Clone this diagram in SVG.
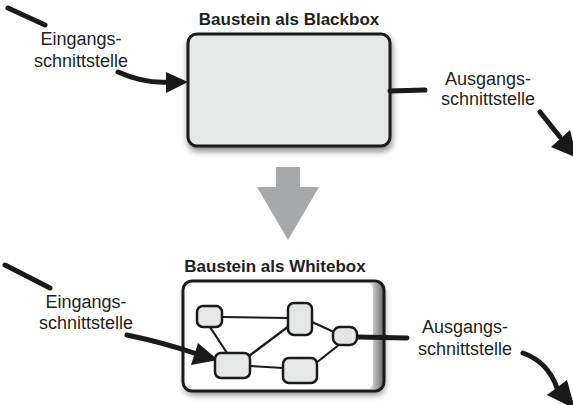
<svg xmlns="http://www.w3.org/2000/svg" width="573" height="405" viewBox="0 0 573 405">
  <style>
    .title { font-family: "Liberation Sans", Arial, sans-serif; font-weight: bold; font-size: 17px; fill: #231f20; text-anchor: middle; }
    .label { font-family: "Liberation Sans", Arial, sans-serif; font-size: 18px; fill: #231f20; text-anchor: middle; }
    .box { fill: #e5e6e6; stroke: #1a1a1a; stroke-width: 3; }
    .node { fill: #e5e6e6; stroke: #1a1a1a; stroke-width: 2.5; }
    .edge { fill: none; stroke: #1a1a1a; stroke-width: 2.2; }
    .wire { fill: none; stroke: #1a1a1a; stroke-width: 5; stroke-linecap: round; }
    .head { fill: #1a1a1a; }
  </style>
  <defs>
    <filter id="shadow" x="-10%" y="-10%" width="125%" height="130%">
      <feDropShadow dx="1" dy="4" stdDeviation="3" flood-color="#000" flood-opacity="0.45"/>
    </filter>
    <linearGradient id="curl" x1="0" y1="0" x2="1" y2="0">
      <stop offset="0" stop-color="#ffffff"/>
      <stop offset="0.5" stop-color="#b0b0b0"/>
      <stop offset="1" stop-color="#707070"/>
    </linearGradient>
  </defs>

  <!-- black box -->
  <g id="blackbox">
    <text class="title" x="289" y="25">Baustein als Blackbox</text>
    <rect class="box" x="188" y="34" width="202" height="112" rx="9" filter="url(#shadow)"/>
  </g>

  <!-- transition arrow -->
  <g id="transition">
    <polygon fill="#a7a8a9" points="276,167 300,167 300,187 319,187 288,240 257,187 276,187"/>
  </g>

  <!-- white box with inner structure -->
  <g id="whitebox">
    <text class="title" x="275" y="272">Baustein als Whitebox</text>
    <rect x="183" y="281" width="201" height="110" rx="9" fill="#ffffff" filter="url(#shadow)"/>
    <rect x="368" y="283" width="15" height="106" fill="url(#curl)"/>
    <rect x="185" y="283" width="188" height="106" rx="7" fill="#ffffff"/>
    <rect x="183" y="281" width="201" height="110" rx="9" fill="none" stroke="#1a1a1a" stroke-width="3"/>
  </g>

  <g id="connectors">
    <!-- inner edges -->
    <line class="edge" x1="222" y1="317" x2="288" y2="318"/>
    <line class="edge" x1="210" y1="327" x2="227" y2="353"/>
    <line class="edge" x1="249" y1="356" x2="289" y2="326"/>
    <line class="edge" x1="250" y1="366" x2="283" y2="368"/>
    <line class="edge" x1="312" y1="322" x2="334" y2="332"/>
    <line class="edge" x1="316" y1="363" x2="340" y2="344"/>

    <!-- upper input -->
    <line class="wire" x1="8" y1="8" x2="45" y2="25"/>
    <path class="wire" d="M118,72 Q145,84 170,82"/>
    <polygon class="head" points="166,72 188,82 166,93"/>

    <!-- upper output -->
    <line class="wire" x1="390" y1="91" x2="425" y2="90"/>
    <line class="wire" x1="540" y1="112" x2="560" y2="137"/>
    <polygon class="head" points="551,147 570,130 577,158"/>

    <!-- lower input -->
    <line class="wire" x1="5" y1="265" x2="50" y2="288"/>
    <path class="wire" d="M127,335 Q165,343 197,354"/>
    <polygon class="head" points="191,365 198,343 218,360"/>

    <!-- lower output -->
    <line class="wire" x1="357" y1="337" x2="407" y2="338"/>
    <path class="wire" d="M523,353 Q548,362 557,388"/>
    <polygon class="head" points="547,395 567,380 575,409"/>
  </g>

  <!-- inner nodes -->
  <g id="node-a"><rect class="node" x="197" y="306" width="25" height="21" rx="6"/></g>
  <g id="node-b"><rect class="node" x="288" y="303" width="24" height="32" rx="6"/></g>
  <g id="node-c"><rect class="node" x="333" y="327" width="24" height="18" rx="7"/></g>
  <g id="node-d"><rect class="node" x="215" y="353" width="35" height="25" rx="6"/></g>
  <g id="node-e"><rect class="node" x="283" y="358" width="34" height="25" rx="6"/></g>

  <!-- interface labels -->
  <g id="label-in-top">
    <text class="label" x="81" y="45">Eingangs-</text>
    <text class="label" x="81" y="67">schnittstelle</text>
  </g>
  <g id="label-out-top">
    <text class="label" x="488" y="85">Ausgangs-</text>
    <text class="label" x="488" y="105">schnittstelle</text>
  </g>
  <g id="label-in-bottom">
    <text class="label" x="86" y="308">Eingangs-</text>
    <text class="label" x="86" y="329">schnittstelle</text>
  </g>
  <g id="label-out-bottom">
    <text class="label" x="465" y="333">Ausgangs-</text>
    <text class="label" x="465" y="355">schnittstelle</text>
  </g>
</svg>
